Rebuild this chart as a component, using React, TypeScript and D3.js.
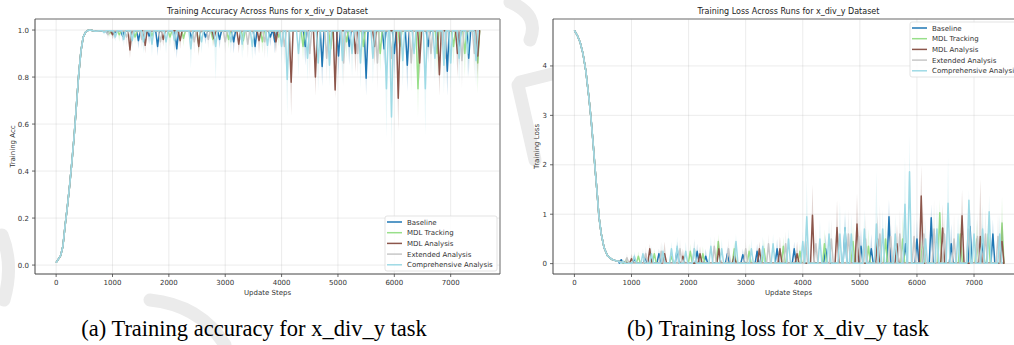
import React from "react";
import * as d3 from "d3";

// ---------- data ----------
const seriesNames = ["Baseline", "MDL Tracking", "MDL Analysis", "Extended Analysis", "Comprehensive Analysis"];
const seriesColors = ["#1f77b4", "#98df8a", "#8c564b", "#c7c7c7", "#9edae5"];

const xTicks = [0, 1000, 2000, 3000, 4000, 5000, 6000, 7000];
const accTicks = [0, 0.2, 0.4, 0.6, 0.8, 1.0];
const lossTicks = [0, 1, 2, 3, 4];
const lastStep = 7500;

// early phase (shared by all runs): [step, value]
const accRamp: [number, number][] = [
  [0, 0.01], [40, 0.025], [80, 0.04], [120, 0.08], [160, 0.17], [200, 0.25], [240, 0.34],
  [280, 0.44], [320, 0.55], [360, 0.68], [400, 0.81], [440, 0.91], [480, 0.97], [520, 0.99],
  [560, 0.998], [600, 1.0], [700, 0.995], [780, 0.997],
];
const lossRamp: [number, number][] = [
  [0, 4.72], [50, 4.62], [100, 4.48], [150, 4.25], [200, 3.9], [250, 3.4], [290, 2.95],
  [330, 2.4], [360, 1.95], [400, 1.4], [430, 0.95], [470, 0.6], [520, 0.32], [580, 0.16],
  [650, 0.09], [720, 0.06], [780, 0.05],
];
const accPlateau = 0.997;
const lossPlateau = 0.01;

// spikes: [step, mean, band extreme]
const accBaseline: [number, number, number][] = [
  [900, 0.99, 0.98], [1030, 0.985, 0.96], [1180, 0.975, 0.95], [1460, 0.955, 0.92], [1650, 0.975, 0.94],
  [1800, 0.93, 0.89], [2140, 0.92, 0.88], [2400, 0.965, 0.93], [2650, 0.97, 0.94], [2900, 0.96, 0.92],
  [3150, 0.95, 0.9], [3530, 0.93, 0.89], [3800, 0.97, 0.93], [3880, 0.95, 0.9], [4420, 0.93, 0.85],
  [4720, 0.845, 0.76], [5010, 0.89, 0.8], [5200, 0.93, 0.85], [5500, 0.795, 0.72], [5820, 0.92, 0.85],
  [6000, 0.9, 0.8], [6230, 0.85, 0.74], [6600, 0.93, 0.86], [6940, 0.825, 0.72], [7150, 0.93, 0.85],
  [7320, 0.88, 0.8],
];
const accMdlTracking: [number, number, number][] = [
  [950, 0.985, 0.97], [1120, 0.98, 0.95], [1400, 0.97, 0.94], [1700, 0.975, 0.94], [2020, 0.97, 0.93],
  [2260, 0.965, 0.93], [2530, 0.94, 0.9], [2780, 0.96, 0.93], [3060, 0.96, 0.92], [3320, 0.955, 0.91],
  [3660, 0.95, 0.9], [3950, 0.97, 0.93], [4380, 0.93, 0.87], [4870, 0.92, 0.85], [5150, 0.95, 0.88],
  [5450, 0.93, 0.85], [5750, 0.9, 0.82], [6100, 0.93, 0.85], [6420, 0.75, 0.63], [6760, 0.9, 0.8],
  [7050, 0.93, 0.85], [7250, 0.9, 0.8], [7480, 0.86, 0.73],
];
const accMdlAnalysis: [number, number, number][] = [
  [1000, 0.98, 0.96], [1310, 0.915, 0.88], [1580, 0.935, 0.9], [1900, 0.96, 0.93], [2200, 0.955, 0.92],
  [2530, 0.93, 0.89], [2800, 0.965, 0.93], [3240, 0.94, 0.9], [3600, 0.955, 0.9], [3900, 0.95, 0.9],
  [4170, 0.778, 0.635], [4600, 0.8, 0.72], [4950, 0.745, 0.71], [5310, 0.9, 0.82], [5650, 0.93, 0.85],
  [6070, 0.71, 0.57], [6450, 0.86, 0.78], [6800, 0.81, 0.72], [7120, 0.9, 0.8], [7480, 0.89, 0.8],
];
const accExtended: [number, number, number][] = [
  [920, 0.98, 0.96], [1250, 0.97, 0.93], [1520, 0.96, 0.92], [1850, 0.95, 0.91], [2100, 0.96, 0.9],
  [2450, 0.95, 0.9], [2700, 0.96, 0.92], [3000, 0.95, 0.9], [3400, 0.94, 0.88], [3700, 0.95, 0.88],
  [4050, 0.93, 0.85], [4500, 0.9, 0.8], [4800, 0.88, 0.78], [5100, 0.86, 0.76], [5350, 0.9, 0.8],
  [5700, 0.86, 0.74], [5950, 0.88, 0.77], [6300, 0.86, 0.74], [6650, 0.9, 0.8], [6900, 0.88, 0.77],
  [7200, 0.87, 0.75], [7420, 0.9, 0.8],
];
const accComprehensive: [number, number, number][] = [
  [850, 0.99, 0.98], [1050, 0.97, 0.95], [1200, 0.96, 0.93], [1350, 0.955, 0.92], [1550, 0.95, 0.9],
  [1700, 0.94, 0.89], [1950, 0.95, 0.9], [2100, 0.955, 0.91], [2390, 0.92, 0.835], [2580, 0.95, 0.9],
  [2830, 0.93, 0.785], [3100, 0.95, 0.9], [3300, 0.94, 0.88], [3480, 0.93, 0.87], [3750, 0.935, 0.88],
  [4000, 0.93, 0.86], [4100, 0.79, 0.63], [4300, 0.9, 0.8], [4460, 0.88, 0.78], [4650, 0.86, 0.74],
  [4850, 0.85, 0.76], [5080, 0.87, 0.77], [5250, 0.9, 0.8], [5400, 0.86, 0.75], [5620, 0.88, 0.77],
  [5860, 0.75, 0.54], [5950, 0.63, 0.49], [6150, 0.87, 0.76], [6350, 0.9, 0.8], [6550, 0.75, 0.55],
  [6720, 0.88, 0.78], [6880, 0.85, 0.73], [7000, 0.86, 0.75], [7150, 0.88, 0.77], [7300, 0.9, 0.8],
  [7450, 0.87, 0.76],
];

const lossBaseline: [number, number, number][] = [
  [820, 0.08, 0.1], [1050, 0.1, 0.2], [1240, 0.12, 0.25], [1480, 0.2, 0.3], [1800, 0.3, 0.45],
  [2150, 0.25, 0.4], [2300, 0.15, 0.3], [2680, 0.2, 0.35], [2950, 0.18, 0.3], [3200, 0.25, 0.4],
  [3550, 0.3, 0.5], [3850, 0.3, 0.45], [4400, 0.3, 0.6], [4740, 0.72, 1.0], [5020, 0.35, 0.7],
  [5200, 0.3, 0.6], [5510, 0.95, 1.3], [5800, 0.4, 0.8], [6000, 0.5, 0.9], [6250, 0.93, 1.2],
  [6600, 0.4, 0.8], [6930, 0.75, 1.1], [7150, 0.45, 0.8], [7330, 0.6, 0.9],
];
const lossMdlTracking: [number, number, number][] = [
  [900, 0.06, 0.12], [1120, 0.15, 0.25], [1400, 0.2, 0.3], [1700, 0.15, 0.3], [2030, 0.25, 0.4],
  [2250, 0.2, 0.35], [2520, 0.45, 0.6], [2800, 0.3, 0.45], [3060, 0.25, 0.4], [3320, 0.3, 0.5],
  [3660, 0.35, 0.55], [3950, 0.25, 0.4], [4380, 0.4, 0.7], [4880, 0.45, 0.8], [5150, 0.35, 0.7],
  [5450, 0.5, 0.9], [5750, 0.5, 1.0], [6100, 0.45, 0.9], [6400, 1.03, 1.3], [6760, 0.6, 1.0],
  [7050, 0.5, 0.9], [7250, 0.6, 1.0], [7490, 0.82, 1.36],
];
const lossMdlAnalysis: [number, number, number][] = [
  [1000, 0.1, 0.2], [1320, 0.3, 0.4], [1580, 0.2, 0.45], [1900, 0.15, 0.3], [2200, 0.2, 0.35],
  [2530, 0.3, 0.5], [2800, 0.15, 0.3], [3240, 0.3, 0.45], [3600, 0.3, 0.55], [3900, 0.2, 0.45],
  [4170, 0.98, 1.6], [4600, 0.73, 1.28], [4950, 0.8, 1.42], [5310, 0.5, 1.0], [5650, 0.4, 0.8],
  [6075, 1.37, 1.99], [6450, 0.72, 1.2], [6790, 0.97, 1.5], [7110, 0.55, 1.7], [7490, 0.45, 0.9],
];
const lossExtended: [number, number, number][] = [
  [920, 0.12, 0.2], [1250, 0.2, 0.35], [1520, 0.25, 0.45], [1850, 0.3, 0.5], [2100, 0.3, 0.5],
  [2450, 0.35, 0.55], [2700, 0.3, 0.5], [3000, 0.3, 0.5], [3400, 0.4, 0.6], [3700, 0.4, 0.65],
  [4050, 0.45, 0.8], [4230, 0.4, 0.7], [4500, 0.5, 0.9], [4800, 0.6, 1.1], [4980, 0.55, 1.0],
  [5100, 0.5, 1.0], [5350, 0.6, 1.2], [5540, 0.55, 1.0], [5700, 0.6, 1.1], [5950, 0.55, 1.0],
  [6120, 0.6, 1.1], [6300, 0.7, 1.3], [6480, 0.6, 1.0], [6650, 0.5, 1.0], [6900, 0.7, 1.2],
  [7060, 0.55, 1.0], [7200, 0.6, 1.1], [7420, 0.55, 1.0],
];
const lossComprehensive: [number, number, number][] = [
  [850, 0.05, 0.1], [1050, 0.15, 0.25], [1200, 0.2, 0.3], [1350, 0.2, 0.35], [1550, 0.25, 0.4],
  [1700, 0.3, 0.45], [1800, 0.35, 0.55], [1950, 0.25, 0.45], [2100, 0.3, 0.5], [2390, 0.35, 0.55],
  [2580, 0.3, 0.5], [2830, 0.45, 0.6], [3100, 0.3, 0.5], [3300, 0.35, 0.55], [3480, 0.4, 0.6],
  [3750, 0.5, 0.7], [4000, 0.45, 0.65], [4070, 0.95, 1.7], [4300, 0.5, 0.9], [4460, 0.6, 0.9],
  [4650, 0.6, 1.25], [4740, 0.73, 1.1], [4850, 0.6, 1.0], [5080, 0.7, 1.1], [5290, 0.8, 1.88],
  [5400, 0.7, 1.1], [5620, 0.6, 1.0], [5790, 1.2, 2.15], [5870, 1.86, 2.6], [6150, 0.5, 0.9],
  [6350, 0.7, 1.2], [6545, 1.22, 2.16], [6720, 0.6, 1.0], [6910, 1.28, 1.5], [7000, 0.6, 1.0],
  [7150, 0.7, 1.2], [7265, 1.05, 1.4], [7450, 0.6, 1.0],
];

const accSpikes = [accBaseline, accMdlTracking, accMdlAnalysis, accExtended, accComprehensive];
const lossSpikes = [lossBaseline, lossMdlTracking, lossMdlAnalysis, lossExtended, lossComprehensive];

// ---------- helpers ----------
type Pt = { x: number; y: number; b: number };
const HALF = 34;
function buildSeries(ramp: [number, number][], spikes: [number, number, number][], plateau: number): Pt[] {
  const pts: Pt[] = ramp.map(([x, y]) => ({ x, y, b: y }));
  for (const [s, m, e] of spikes) {
    pts.push({ x: s - HALF, y: plateau, b: plateau });
    pts.push({ x: s, y: m, b: e });
    pts.push({ x: s + HALF, y: plateau, b: plateau });
  }
  pts.push({ x: lastStep, y: plateau, b: plateau });
  return pts;
}

const FONT = "'DejaVu Sans', sans-serif";

type PanelProps = {
  id: string;
  left: number; right: number; top: number; bottom: number;
  yDomain: [number, number];
  yTicks: number[];
  yFmt: (v: number) => string;
  title: string;
  ylabel: string;
  ylabelX: number;
  series: Pt[][];
  legendX: number; legendY: number;
};

function Panel(p: PanelProps) {
  const x = d3.scaleLinear().domain([-375, 7875]).range([p.left, p.right]);
  const y = d3.scaleLinear().domain(p.yDomain).range([p.bottom, p.top]);
  const line = d3.line<Pt>().x((d) => x(d.x)).y((d) => y(d.y));
  const area = d3.area<Pt>().x((d) => x(d.x)).y0((d) => y(d.y)).y1((d) => y(d.b));
  const midY = (p.top + p.bottom) / 2;
  return (
    <g>
      <defs>
        <clipPath id={p.id}>
          <rect x={p.left} y={p.top} width={p.right - p.left} height={p.bottom - p.top} />
        </clipPath>
      </defs>
      <rect x={p.left} y={p.top} width={p.right - p.left} height={p.bottom - p.top} fill="#fff" />
      {xTicks.map((t) => (
        <line key={"gx" + t} x1={x(t)} x2={x(t)} y1={p.top} y2={p.bottom} stroke="#b0b0b0" strokeOpacity={0.3} strokeWidth={0.8} />
      ))}
      {p.yTicks.map((t) => (
        <line key={"gy" + t} x1={p.left} x2={p.right} y1={y(t)} y2={y(t)} stroke="#b0b0b0" strokeOpacity={0.3} strokeWidth={0.8} />
      ))}
      <g clipPath={`url(#${p.id})`}>
        {p.series.map((s, i) => (
          <g key={i}>
            <path d={area(s) || ""} fill={seriesColors[i]} fillOpacity={0.25} stroke="none" />
            <path d={line(s) || ""} fill="none" stroke={seriesColors[i]} strokeWidth={1.5} strokeLinejoin="round" />
          </g>
        ))}
      </g>
      {/* spines */}
      <line x1={p.left} x2={p.right} y1={p.top} y2={p.top} stroke="#9a9a9a" strokeWidth={1.5} />
      <line x1={p.right} x2={p.right} y1={p.top} y2={p.bottom} stroke="#9a9a9a" strokeWidth={1.5} />
      <line x1={p.left} x2={p.left} y1={p.top} y2={p.bottom} stroke="#444" strokeWidth={1} />
      <line x1={p.left} x2={p.right} y1={p.bottom} y2={p.bottom} stroke="#444" strokeWidth={1} />
      {/* ticks */}
      {xTicks.map((t) => (
        <g key={"tx" + t}>
          <line x1={x(t)} x2={x(t)} y1={p.bottom} y2={p.bottom + 3} stroke="#444" strokeWidth={0.8} />
          <text x={x(t)} y={p.bottom + 11} fontSize={7} fontFamily={FONT} fill="#333" textAnchor="middle">{t}</text>
        </g>
      ))}
      {p.yTicks.map((t) => (
        <g key={"ty" + t}>
          <line x1={p.left - 3} x2={p.left} y1={y(t)} y2={y(t)} stroke="#444" strokeWidth={0.8} />
          <text x={p.left - 6} y={y(t) + 2.5} fontSize={7} fontFamily={FONT} fill="#333" textAnchor="end">{p.yFmt(t)}</text>
        </g>
      ))}
      <text x={(p.left + p.right) / 2} y={p.bottom + 21} fontSize={7} fontFamily={FONT} fill="#333" textAnchor="middle">Update Steps</text>
      <text transform={`translate(${p.ylabelX},${midY}) rotate(-90)`} fontSize={7} fontFamily={FONT} fill="#333" textAnchor="middle">{p.ylabel}</text>
      <text x={(p.left + p.right) / 2} y={14} fontSize={8} fontFamily={FONT} fill="#222" textAnchor="middle">{p.title}</text>
      {/* legend */}
      <g transform={`translate(${p.legendX},${p.legendY})`}>
        <rect x={0} y={0} width={112} height={55} rx={2} fill="#fff" fillOpacity={0.85} stroke="#dcdcdc" strokeWidth={0.8} />
        {seriesNames.map((n, i) => (
          <g key={n} transform={`translate(0,${6 + i * 10.7})`}>
            <line x1={2} x2={17} y1={0} y2={0} stroke={seriesColors[i]} strokeWidth={1.5} />
            <text x={22} y={2.5} fontSize={7} fontFamily={FONT} fill="#333">{n}</text>
          </g>
        ))}
      </g>
    </g>
  );
}

export default function App() {
  const accSeries = accSpikes.map((sp) => buildSeries(accRamp, sp, accPlateau));
  const lossSeries = lossSpikes.map((sp) => buildSeries(lossRamp, sp, lossPlateau));
  const wm = "#ebebeb";
  return (
    <svg width={1014} height={345} style={{ position: "absolute", left: 0, top: 0, background: "#fff" }}>
      {/* faint watermark strokes in the margins */}
      <g fill="none" stroke={wm} strokeWidth={13} strokeLinecap="round">
        <path d="M 2 235 Q 14 265 4 300" />
        <path d="M 150 300 Q 200 305 225 345" />
        <path d="M 510 2 Q 540 15 530 40" />
        <path d="M 518 85 L 535 160" />
        <path d="M 520 82 L 560 72" />
      </g>
      <Panel
        id="clipA" left={35} right={500} top={19} bottom={274}
        yDomain={[-0.038, 1.047]} yTicks={accTicks} yFmt={(v) => v.toFixed(1)}
        title="Training Accuracy Across Runs for x_div_y Dataset" ylabel="Training Acc" ylabelX={15}
        series={accSeries} legendX={385} legendY={216}
      />
      <Panel
        id="clipB" left={553} right={1024} top={19} bottom={274}
        yDomain={[-0.21, 4.95]} yTicks={lossTicks} yFmt={(v) => String(v)}
        title="Training Loss Across Runs for x_div_y Dataset" ylabel="Training Loss" ylabelX={539}
        series={lossSeries} legendX={910} legendY={22}
      />
      <text x={254} y={336} fontSize={22.5} fontFamily="'Liberation Serif', 'Times New Roman', serif" fill="#000" textAnchor="middle">(a) Training accuracy for x_div_y task</text>
      <text x={778} y={336} fontSize={22.5} fontFamily="'Liberation Serif', 'Times New Roman', serif" fill="#000" textAnchor="middle">(b) Training loss for x_div_y task</text>
    </svg>
  );
}
